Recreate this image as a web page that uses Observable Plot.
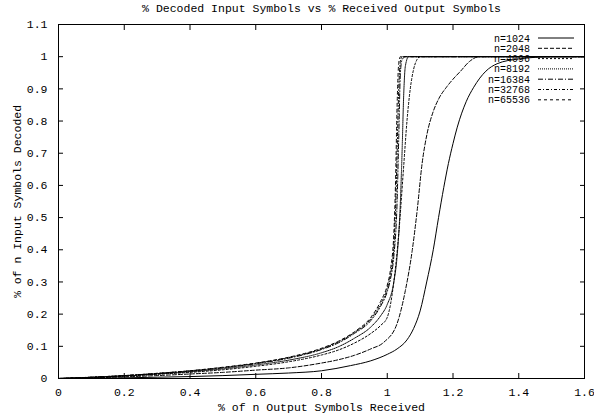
<!DOCTYPE html>
<html>
<head>
<meta charset="utf-8">
<script src="https://cdn.jsdelivr.net/npm/d3@7"></script>
<script src="https://cdn.jsdelivr.net/npm/@observablehq/plot@0.6"></script>
<style>
  html, body { margin: 0; padding: 0; background: #fff; }
  #chart { width: 594px; height: 420px; }
  svg { font-family: "Liberation Mono", "DejaVu Sans Mono", monospace; }
</style>
</head>
<body>
<div id="chart"></div>
<script>
const title = "% Decoded Input Symbols vs % Received Output Symbols";
const xLabel = "% of n Output Symbols Received";
const yLabel = "% of n Input Symbols Decoded";
const xTicks = [0, 0.2, 0.4, 0.6, 0.8, 1, 1.2, 1.4, 1.6];
const yTicks = [0, 0.1, 0.2, 0.3, 0.4, 0.5, 0.6, 0.7, 0.8, 0.9, 1, 1.1];

const seriesNames = ["n=1024", "n=2048", "n=4096", "n=8192", "n=16384", "n=32768", "n=65536"];
const dashes = [null, "4,2", "2,2", "1,1", "5,2,1,2", "3,2,1,2", "3,3"];

const x1024 = [0, 0.2, 0.3, 0.4, 0.5, 0.6, 0.7, 0.8, 0.888, 0.95, 1.0, 1.03, 1.06, 1.08, 1.1, 1.12, 1.14, 1.156, 1.172, 1.186, 1.2, 1.213, 1.24, 1.263, 1.3, 1.334, 1.4, 1.45, 1.5, 1.6];
const y1024 = [0, 0.002, 0.004, 0.006, 0.009, 0.013, 0.017, 0.024, 0.040, 0.055, 0.075, 0.092, 0.12, 0.155, 0.21, 0.30, 0.40, 0.50, 0.594, 0.668, 0.73, 0.781, 0.86, 0.905, 0.955, 0.978, 0.993, 0.998, 1.0, 1.0];

const x2048 = [0, 0.2, 0.3, 0.4, 0.5, 0.6, 0.7, 0.8, 0.85, 0.9, 0.95, 0.99, 1.03, 1.055, 1.076, 1.091, 1.106, 1.121, 1.14, 1.157, 1.18, 1.2, 1.223, 1.25, 1.28, 1.6];
const y2048 = [0, 0.005, 0.009, 0.014, 0.019, 0.026, 0.033, 0.048, 0.058, 0.072, 0.092, 0.113, 0.171, 0.273, 0.398, 0.522, 0.668, 0.76, 0.83, 0.87, 0.905, 0.93, 0.955, 0.985, 1.0, 1.0];

const x4096 = [0, 0.2, 0.3, 0.4, 0.5, 0.6, 0.7, 0.8, 0.85, 0.9, 0.95, 0.98, 1.0, 1.02, 1.035, 1.05, 1.06, 1.07, 1.08, 1.09, 1.1, 1.6];
const y4096 = [0, 0.007, 0.013, 0.019, 0.027, 0.038, 0.052, 0.073, 0.088, 0.11, 0.14, 0.165, 0.19, 0.30, 0.45, 0.66, 0.80, 0.90, 0.96, 0.99, 1.0, 1.0];

const x8192 = [0, 0.2, 0.3, 0.4, 0.5, 0.6, 0.7, 0.8, 0.85, 0.9, 0.95, 0.98, 1.0, 1.02, 1.03, 1.04, 1.045, 1.05, 1.055, 1.065, 1.6];
const y8192 = [0, 0.008, 0.014, 0.021, 0.030, 0.042, 0.057, 0.080, 0.098, 0.125, 0.16, 0.195, 0.23, 0.30, 0.38, 0.55, 0.70, 0.88, 0.97, 1.0, 1.0];

const x16384 = [0, 0.1, 0.2, 0.3, 0.4, 0.5, 0.6, 0.7, 0.8, 0.85, 0.9, 0.95, 0.98, 1.0, 1.01, 1.02, 1.03, 1.035, 1.04, 1.045, 1.055, 1.6];
const y16384 = [0, 0.004, 0.009, 0.015, 0.023, 0.033, 0.046, 0.063, 0.090, 0.11, 0.14, 0.18, 0.225, 0.27, 0.31, 0.38, 0.55, 0.75, 0.95, 0.99, 1.0, 1.0];

const x32768 = [0, 0.1, 0.2, 0.3, 0.4, 0.5, 0.6, 0.7, 0.8, 0.85, 0.9, 0.95, 0.98, 1.0, 1.01, 1.02, 1.025, 1.03, 1.035, 1.04, 1.045, 1.6];
const y32768 = [0, 0.004, 0.009, 0.016, 0.024, 0.034, 0.047, 0.065, 0.092, 0.113, 0.143, 0.185, 0.232, 0.28, 0.325, 0.41, 0.52, 0.70, 0.90, 0.985, 1.0, 1.0];

const x65536 = [0, 0.1, 0.2, 0.3, 0.4, 0.5, 0.6, 0.7, 0.8, 0.85, 0.9, 0.95, 0.98, 1.0, 1.01, 1.02, 1.025, 1.03, 1.035, 1.04, 1.6];
const y65536 = [0, 0.004, 0.009, 0.016, 0.024, 0.035, 0.048, 0.066, 0.094, 0.115, 0.145, 0.19, 0.24, 0.29, 0.34, 0.45, 0.60, 0.85, 0.98, 1.0, 1.0];

const xs = [x1024, x2048, x4096, x8192, x16384, x32768, x65536];
const ys = [y1024, y2048, y4096, y8192, y16384, y32768, y65536];
const series = seriesNames.map((name, i) => xs[i].map((x, j) => ({x, y: ys[i][j], name})));

const fmt = d => String(+d.toFixed(1));
const FS = 11.5;
const centered = {textAnchor: "middle", lineAnchor: "middle", fontSize: FS};

const marks = [
  Plot.frame({stroke: "black", strokeWidth: 1}),
  Plot.axisX(xTicks, {anchor: "bottom", tickSize: 0, tickPadding: 9, tickFormat: fmt, label: null, fontSize: FS}),
  Plot.axisY(yTicks, {anchor: "left", tickSize: 0, tickPadding: 11, tickFormat: fmt, label: null, fontSize: FS}),
  Plot.axisX(xTicks, {anchor: "bottom", tickSize: -5, tickFormat: () => "", label: null}),
  Plot.axisX(xTicks, {anchor: "top", tickSize: -5, tickFormat: () => "", label: null}),
  Plot.axisY(yTicks, {anchor: "left", tickSize: -5, tickFormat: () => "", label: null}),
  Plot.axisY(yTicks, {anchor: "right", tickSize: -5, tickFormat: () => "", label: null}),
  Plot.text([title], {frameAnchor: "top", dy: -16, ...centered}),
  Plot.text([xLabel], {frameAnchor: "bottom", dy: 29, ...centered}),
  Plot.text([yLabel], {frameAnchor: "left", dx: -41, rotate: -90, ...centered}),
  ...series.map((s, i) => Plot.line(s, {x: "x", y: "y", stroke: "black", strokeWidth: 1, strokeDasharray: dashes[i] || undefined, curve: "monotone-x"}))
];

const plot = Plot.plot({
  width: 594,
  height: 420,
  marginLeft: 58,
  marginRight: 10,
  marginTop: 24,
  marginBottom: 42,
  style: {fontFamily: "'Liberation Mono', 'DejaVu Sans Mono', monospace", fontSize: FS + "px", background: "white", color: "black"},
  x: {domain: [0, 1.6], axis: null},
  y: {domain: [0, 1.1], axis: null},
  marks
});

const svg = d3.select(plot);
const key = svg.append("g").attr("font-size", 10).attr("font-family", "'Liberation Mono', 'DejaVu Sans Mono', monospace");
const keyTextRight = 530, keyLineX1 = 538, keyLineX2 = 574, keyTop = 38, keyStep = 10.3;
seriesNames.forEach((name, i) => {
  const yy = keyTop + i * keyStep;
  key.append("text").attr("x", keyTextRight).attr("y", yy).attr("dy", "0.35em").attr("text-anchor", "end").attr("fill", "black").text(name);
  const ln = key.append("line").attr("x1", keyLineX1).attr("x2", keyLineX2).attr("y1", yy).attr("y2", yy).attr("stroke", "black").attr("stroke-width", 1);
  if (dashes[i]) ln.attr("stroke-dasharray", dashes[i]);
});

document.getElementById("chart").appendChild(plot);
</script>
</body>
</html>
